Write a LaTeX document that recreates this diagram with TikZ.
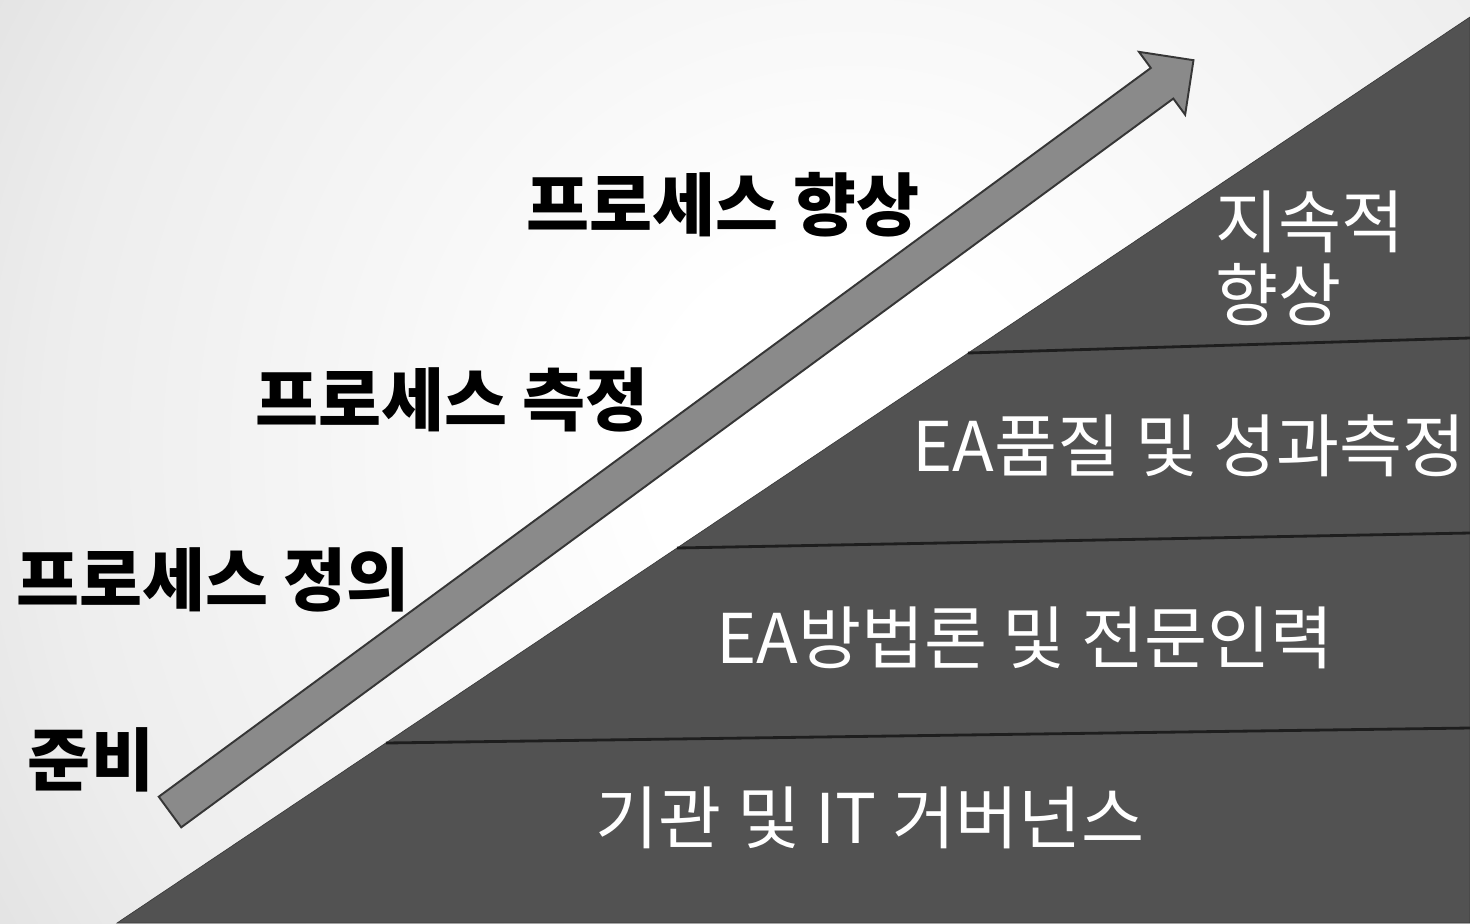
\documentclass[tikz,border=0pt]{standalone}
\usepackage{fontspec}
\usepackage{xcolor}
\usepackage{tikz}
\setmainfont{Noto Sans CJK KR}
\definecolor{layerGrey}{HTML}{525252}
\definecolor{edgeGrey}{HTML}{3C3C3C}
\definecolor{lineGrey}{HTML}{1E1E1E}
\definecolor{arrowGrey}{HTML}{8A8A8A}
\definecolor{arrowEdge}{HTML}{363636}
\pgfdeclareradialshading{bgGlow}{\pgfpoint{0bp}{0bp}}{color(0bp)=(white); color(5bp)=(white); color(20bp)=(black!7); color(37.5bp)=(black!22); color(48bp)=(black!31); color(50bp)=(black!31)}
\tikzstyle{fStage} = [anchor=base, inner sep=0pt, text=black, font=\fontsize{39}{45}\selectfont\bfseries]
\tikzstyle{fLayer} = [anchor=base, inner sep=0pt, text=white, font=\fontsize{39}{41}\selectfont]
\tikzstyle{fDivider} = [draw=lineGrey, line width=1.6pt]
\tikzstyle{fArrowBody} = [fill=arrowGrey, draw=arrowEdge, line width=1.1pt, line join=miter]

\begin{document}
\begin{tikzpicture}[x=0.02cm, y=-0.02cm]
    \useasboundingbox (0,0) rectangle (1470,923);
    % background glow
    \begin{scope}
        \clip (0,0) rectangle (1470,923);
        \shade[shading=bgGlow] (-150,-550) rectangle (1850,1450);
    \end{scope}

    % dark wedge and its layers
    \fill[layerGrey, draw=edgeGrey, line width=0.4pt] (117,923) -- (1470,17) -- (1470,923) -- cycle;
    \draw [fDivider] (968,353) -- (1470,338);
    \draw [fDivider] (677,548) -- (1470,533);
    \draw [fDivider] (386,743) -- (1470,728);

    % rising arrow
    \begin{scope}[shift={(170,812)}, rotate=36.3]
        \draw [fArrowBody] (0,-19) -- (1231,-19) -- (1231,-39) -- (1270,0) -- (1231,39) -- (1231,19) -- (0,19) -- cycle;
    \end{scope}

    % stages
    \node (ready) [fStage] at (91,785) {준비};
    \node (define) [fStage] at (213,605) {프로세스 정의};
    \node (measure) [fStage] at (452,425) {프로세스 측정};
    \node (improve) [fStage] at (723,230) {프로세스 향상};

    % layers
    \node (governance) [fLayer] at (870,843) {기관 및 IT 거버넌스};
    \node (method) [fLayer] at (1025,663) {EA방법론 및 전문인력};
    \node (quality) [fLayer] at (1189,471) {EA품질 및 성과측정};
    \node (continuous) [fLayer, anchor=base west, align=left] at (1215,320) {지속적\\향상};
\end{tikzpicture}
\end{document}
